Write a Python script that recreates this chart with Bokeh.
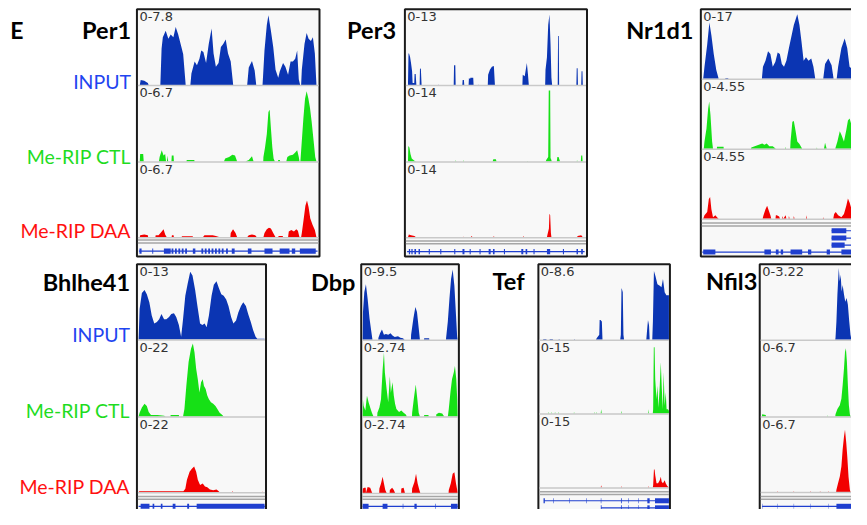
from bokeh.plotting import figure
from bokeh.models import Range1d
from bokeh.embed import file_html
from bokeh.resources import INLINE
from bokeh.core.properties import value

# ---------------- data ----------------
# positions: % of the locus window; values: % of the track's data range
track_names = ["INPUT", "Me-RIP CTL", "Me-RIP DAA"]
gene_names = ["Per1", "Per3", "Nr1d1", "Bhlhe41", "Dbp", "Tef", "Nfil3"]
scale_labels = {
    "Per1": ["0-7.8", "0-6.7", "0-6.7"],
    "Per3": ["0-13", "0-14", "0-14"],
    "Nr1d1": ["0-17", "0-4.55", "0-4.55"],
    "Bhlhe41": ["0-13", "0-22", "0-22"],
    "Dbp": ["0-9.5", "0-2.74", "0-2.74"],
    "Tef": ["0-8.6", "0-15", "0-15"],
    "Nfil3": ["0-3.22", "0-6.7", "0-6.7"],
}

per1_in_x = [0.5, 1, 3, 5, 5.5, 12, 12.7, 13.4, 15, 16.5, 17.8, 19.3, 20.6, 22, 23.9, 24.8, 26.2, 28.8, 29.4, 31.2, 32.5, 33.9, 34.9, 36.1, 37.6, 39.1, 40.7, 41.8, 43.1, 44.6, 45.9, 47.2, 48.6, 49.9, 51.4, 52.8, 60.6, 61.5, 63.3, 64.8, 65.7, 69.2, 69.5, 70.3, 71.6, 72.5, 73.9, 75.2, 76.5, 78, 78.9, 80.7, 82, 83.5, 84.9, 86.2, 87.5, 88.6, 89.5, 90.3, 90.8, 91.2, 92.7, 93.9, 95, 96.3, 97.4, 98.5, 99.4]
per1_in_y = [0, 7, 6, 3, 0, 0, 50, 65, 74, 63, 69, 65, 79, 69, 51, 42, 0, 0, 16, 32, 27, 36, 47, 45, 30, 56, 77, 43, 25, 30, 52, 56, 62, 43, 32, 0, 0, 24, 33, 20, 0, 0, 12, 47, 82, 95, 74, 52, 21, 10, 19, 30, 25, 14, 32, 32, 36, 47, 8, 0, 0, 21, 56, 71, 63, 60, 65, 43, 0]
per1_ctl_x = [0.5, 0.7, 2.4, 2.7, 11.2, 11.6, 12.8, 13.8, 14.7, 15.2, 15.7, 16.0, 16.4, 18.2, 18.4, 19.4, 19.6, 26.6, 26.8, 31.0, 31.2, 47.6, 48.3, 50.5, 52.3, 53.8, 55.0, 59.6, 61.5, 63.3, 64.2, 69.6, 69.7, 70.6, 71.6, 72.5, 73.2, 73.9, 74.7, 75.4, 76.1, 77.8, 78.0, 78.9, 79.1, 82.5, 83.1, 84.4, 86.2, 87.5, 88.6, 89.5, 89.9, 90.4, 91.2, 92.1, 93.0, 93.9, 94.9, 95.8, 96.7, 97.8, 98.7, 99.4]
per1_ctl_y = [0, 10, 10, 0, 0, 6, 15, 8, 10, 0, 0, 8, 0, 0, 8, 8, 0, 0, 2, 2, 0, 0, 4, 6, 9, 8, 0, 0, 2, 7, 0, 0, 6, 19, 37, 67, 70, 45, 19, 4, 0, 0, 2, 2, 0, 0, 6, 8, 9, 12, 15, 6, 0, 0, 28, 59, 85, 95, 85, 72, 54, 28, 6, 0]
per1_daa_x = [0.5, 0.7, 3.0, 5.0, 5.2, 9.2, 9.4, 11.0, 12.8, 13.8, 14.7, 15.6, 18.3, 18.5, 19.4, 19.6, 23.9, 24.1, 30.1, 30.3, 35.8, 36.7, 38.5, 41.3, 43.1, 45.3, 51.2, 51.4, 52.7, 54.1, 55.0, 60.6, 61.5, 63.3, 65.1, 66.0, 69.7, 70.3, 71.6, 72.8, 73.9, 75.2, 76.5, 78.0, 78.2, 80.5, 80.7, 83.5, 83.9, 85.3, 86.8, 88.1, 89.0, 89.9, 90.8, 91.2, 92.3, 93.2, 94.1, 95.0, 95.9, 97.2, 98.5, 99.4]
per1_daa_y = [0, 3, 4, 3, 0, 0, 3, 3, 8, 11, 4, 0, 0, 3, 3, 0, 0, 1.5, 1.5, 0, 0, 3, 3, 3, 2, 0, 0, 6, 11, 6, 0, 0, 3, 4, 3, 0, 0, 6, 11, 13, 12, 6, 0, 0, 2, 2, 0, 0, 8, 10, 8, 11, 9, 0, 0, 6, 26, 43, 50, 41, 26, 17, 10, 0]

per3_in_x = [1.0, 1.3, 1.6, 2.2, 2.7, 3.3, 3.6, 4.5, 4.7, 5.3, 5.7, 7.5, 7.7, 8.2, 8.6, 18.0, 18.2, 18.4, 26.5, 26.7, 27.4, 27.6, 31.3, 31.5, 32.2, 32.4, 34.8, 35.0, 35.6, 35.8, 37.4, 37.6, 39.9, 40.1, 40.3, 45.5, 45.7, 46.7, 47.8, 48.9, 49.5, 64.8, 65.0, 66.1, 67.3, 67.9, 68.4, 77.5, 77.7, 78.5, 79.2, 79.9, 80.5, 81.0, 81.4, 84.5, 84.7, 85.1, 85.3, 94.9, 95.1, 95.6, 95.8, 97.6, 97.8, 98.3, 98.5]
per3_in_y = [0, 43, 43, 38, 30, 19, 3, 3, 15, 15, 0, 0, 23, 22, 0, 0, 1, 0, 0, 27, 27, 0, 0, 7, 7, 0, 0, 10, 8, 10, 10, 0, 0, 1, 0, 0, 14, 21, 25, 26, 0, 0, 14, 12, 30, 15, 0, 0, 21, 38, 82, 96, 56, 10, 0, 0, 67, 67, 0, 0, 23, 23, 0, 0, 19, 19, 0]
per3_ctl_x = [1.0, 1.2, 1.8, 2.4, 3.1, 4.6, 5.5, 27.5, 27.7, 27.9, 31.9, 32.1, 32.3, 48.2, 48.6, 50.0, 50.4, 67.3, 67.5, 67.7, 77.8, 78.1, 79.2, 79.5, 79.7, 80.3, 80.5, 80.7, 81.2, 84.0, 84.3, 85.0, 85.8, 95.1, 95.3, 95.5, 97.4, 97.6, 98.2, 98.4]
per3_ctl_y = [0, 21, 19, 10, 4, 1, 0, 0, 2, 0, 0, 2, 0, 0, 3, 3, 0, 0, 1, 0, 0, 2, 6, 96, 96, 96, 4, 4, 0, 0, 6, 6, 0, 0, 2, 0, 0, 8, 8, 0]
per3_daa_x = [1.0, 1.5, 2.7, 4.6, 5.5, 31.7, 31.9, 32.1, 36.0, 36.5, 37.0, 48.6, 48.9, 49.2, 65.0, 65.3, 65.6, 78.5, 78.8, 79.6, 79.9, 80.3, 80.7, 81.0, 95.3, 95.6, 97.6, 98.5]
per3_daa_y = [0, 4, 3, 2, 0, 0, 1, 0, 0, 2, 0, 0, 2, 0, 0, 2, 0, 0, 4, 12, 32, 30, 6, 0, 0, 2, 3, 0]

nr1d1_in_x = [0.5, 1.2, 2.7, 3.9, 5.0, 6.3, 7.7, 9.0, 12.6, 12.8, 14.2, 14.4, 32.8, 33.4, 34.8, 36.2, 37.5, 38.8, 40.2, 41.5, 42.7, 43.8, 45.0, 46.3, 47.7, 49.2, 50.4, 52.3, 53.5, 54.6, 55.8, 57.1, 58.5, 60.0, 61.2, 62.2, 66.6, 67.6, 69.4, 71.2, 72.3, 74.0, 74.8, 76.6, 78.4, 79.8, 81.1, 84, 88, 92, 96, 99.5]
nr1d1_in_y = [0, 18, 51, 84, 65, 37, 13, 0, 0, 1, 1, 0, 0, 18, 27, 41, 37, 18, 25, 39, 37, 22, 18, 27, 46, 65, 80, 96, 80, 56, 27, 32, 27, 30, 18, 0, 0, 22, 30, 20, 0, 0, 18, 46, 60, 46, 18, 10, 20, 15, 5, 0]
nr1d1_ctl_x = [0.8, 1.2, 2.3, 3.2, 3.8, 4.5, 5.4, 5.9, 8.0, 8.1, 11.7, 11.8, 26.8, 27.0, 33.0, 34.2, 35.5, 36.9, 38.8, 40.5, 45.7, 45.9, 46.1, 48.4, 48.6, 49.6, 50.4, 51.4, 52.3, 53.5, 55.0, 62.9, 63.1, 63.3, 67.0, 67.6, 68.5, 73.2, 73.4, 74.4, 75.7, 76.6, 78.0, 79.3, 80.2, 81.1, 82.2, 86, 90, 95, 99.5]
nr1d1_ctl_y = [0, 11, 30, 59, 70, 50, 11, 0, 0, 3, 3, 0, 0, 2, 8, 6, 8, 4, 4, 0, 0, 3, 0, 0, 11, 40, 41, 26, 11, 7, 0, 0, 2, 0, 0, 9, 0, 0, 2, 11, 26, 21, 11, 28, 42, 45, 35, 20, 10, 5, 0]
nr1d1_daa_x = [0.5, 1.2, 2.7, 3.6, 4.3, 5.0, 5.9, 7.2, 8.1, 9.0, 33.2, 33.7, 34.8, 35.7, 36.6, 37.5, 38.0, 40.3, 40.5, 41.0, 42.3, 42.8, 44.0, 44.2, 44.6, 45.9, 46.3, 47.5, 47.7, 48.1, 50.2, 50.4, 50.8, 57.1, 57.3, 57.6, 66.4, 66.6, 66.9, 72.1, 72.6, 73.5, 74.8, 76.6, 78.0, 79.3, 80.2, 81.1, 82.2, 86, 90, 95, 99.5]
nr1d1_daa_y = [0, 5, 10, 29, 32, 14, 2, 5, 2, 0, 0, 5, 14, 19, 12, 5, 0, 0, 5, 5, 3, 0, 0, 4, 0, 5, 0, 0, 4, 0, 0, 4, 0, 0, 5, 0, 0, 2, 0, 0, 7, 10, 5, 2, 7, 19, 30, 24, 14, 8, 4, 2, 0]

bhl_in_x = [0, 0.8, 2.6, 4.7, 6.5, 8.5, 10.4, 12.4, 14.5, 16.3, 18.1, 20.2, 22.0, 24.1, 25.9, 28.0, 29.8, 31.9, 33.7, 35.2, 37.0, 38.9, 40.9, 42.7, 44.8, 46.6, 48.7, 50.5, 52.3, 53.9, 55.7, 57.8, 59.6, 61.7, 63.5, 65.5, 67.4, 69.4, 71.2, 73.3, 75.1, 77.2, 79.0, 81.1, 82.9, 85.0, 86.8, 88.9, 90.7, 92.7, 94.0, 99.8, 100]
bhl_in_y = [0, 42, 64, 68, 62, 51, 33, 22, 24, 28, 35, 28, 28, 31, 35, 36, 31, 20, 4, 28, 60, 77, 93, 88, 68, 46, 22, 20, 22, 17, 33, 60, 75, 80, 71, 62, 60, 55, 46, 31, 22, 26, 37, 46, 51, 46, 35, 24, 13, 4, 1, 1, 0]
bhl_ctl_x = [0, 0.8, 2.6, 4.7, 6.5, 8.0, 9.8, 15.0, 20.2, 21.5, 25.2, 25.4, 31.9, 32.1, 35.2, 36.3, 37.8, 39.6, 41.5, 43.0, 44.3, 45.6, 46.9, 48.2, 49.5, 50.8, 51.8, 53.1, 54.4, 55.7, 57.3, 59.1, 60.9, 62.4, 64.2, 66.3, 67.4]
bhl_ctl_y = [0, 5, 12, 17, 14, 6, 2, 2, 1, 0, 0, 2, 2, 0, 0, 10, 41, 73, 91, 98, 86, 64, 50, 32, 46, 50, 41, 37, 28, 23, 19, 17, 14, 10, 5, 2, 0]
bhl_daa_x = [0, 0.5, 35.5, 37.0, 38.3, 40.4, 42.2, 44.0, 45.6, 46.9, 48.7, 50.8, 52.6, 54.4, 56.5, 59.1, 61.7, 63.0, 64.2, 74.3, 74.6, 74.9, 97.6, 97.9, 98.2]
bhl_daa_y = [0, 1.5, 1.5, 5, 17, 28, 32, 35, 28, 17, 10, 12, 8, 7, 4, 3, 4, 2, 0, 0, 2, 0, 0, 1, 0]

dbp_in_x = [0, 0.3, 1.7, 3.4, 5.2, 7.2, 9.0, 10.3, 16.4, 16.6, 18.3, 20.3, 22.4, 24.5, 26.9, 29.3, 31.4, 33.8, 37.2, 39.7, 42.4, 44.1, 50.8, 51.0, 53.4, 55.5, 57.2, 59.0, 60.3, 64.6, 64.8, 70.0, 70.2, 87.7, 87.9, 89.7, 91.4, 93.1, 94.8, 96.6, 98.3, 99.5, 100]
dbp_in_y = [0, 38, 65, 76, 56, 29, 12, 0, 0, 3, 9, 14, 7, 8, 7, 9, 6, 4, 5, 3, 2, 0, 0, 7, 29, 45, 38, 16, 0, 0, 2, 2, 0, 0, 3, 25, 56, 83, 96, 74, 34, 5, 0]
dbp_ctl_x = [0, 0.2, 1.0, 2.8, 4.5, 6.2, 7.9, 9.7, 11.4, 15.3, 15.5, 17.6, 19.3, 21.0, 22.4, 23.4, 25.2, 26.9, 28.6, 29.7, 31.4, 32.8, 34.1, 35.5, 38.3, 40.7, 43.1, 45.2, 46.6, 51.9, 52.1, 53.8, 55.9, 57.6, 59.0, 60.3, 64.6, 64.8, 69.3, 69.5, 77.4, 77.6, 80.3, 83.8, 85.9, 89.7, 90.7, 92.4, 94.1, 95.9, 97.2, 98.6, 99.6, 100]
dbp_ctl_y = [0, 23, 14, 8, 28, 19, 12, 5, 0, 0, 5, 12, 23, 63, 86, 59, 37, 19, 54, 32, 46, 28, 17, 10, 6, 8, 5, 3, 0, 0, 5, 23, 43, 23, 5, 0, 0, 2, 2, 0, 0, 3, 5, 4, 0, 0, 10, 32, 50, 59, 68, 50, 23, 0]
dbp_daa_x = [0, 0.2, 1.7, 3.2, 3.4, 5.2, 7.9, 10.0, 17.4, 17.6, 19.3, 21.0, 22.4, 23.8, 25.2, 28.4, 28.6, 31.0, 32.8, 34.1, 40.5, 40.7, 43.1, 44.5, 51.9, 52.1, 54.5, 56.2, 57.9, 59.7, 60.7, 90.5, 90.7, 92.8, 94.8, 96.6, 98.3, 99.6, 100]
dbp_daa_y = [0, 6, 7, 7, 0, 8, 7, 0, 0, 6, 13, 22, 13, 4, 0, 0, 4, 7, 4, 0, 0, 6, 7, 0, 0, 6, 15, 26, 13, 4, 0, 0, 4, 13, 26, 28, 13, 4, 0]

tef_in_x = [2.5, 3.0, 5.0, 5.5, 7.5, 8.0, 10.0, 10.5, 14.5, 15.0, 15.7, 26.7, 27.1, 27.5, 43.5, 44.1, 46.1, 46.4, 47.1, 48.1, 48.6, 62.3, 62.8, 63.3, 63.5, 64.3, 64.8, 65.3, 82.5, 83.0, 83.8, 84.6, 85.1, 87.1, 87.6, 88.4, 89.6, 91.1, 92.9, 94.2, 95.4, 96.7, 98.0, 99.2, 100]
tef_in_y = [0, 1, 1, 0, 0, 1, 1, 0, 0, 1, 0, 0, 1, 0, 0, 2, 7, 27, 27, 25, 0, 0, 7, 70, 70, 65, 7, 0, 0, 11, 27, 20, 0, 0, 25, 94, 87, 76, 74, 72, 83, 65, 61, 61, 61]
tef_ctl_x = [6.5, 6.8, 7.1, 9.1, 9.4, 9.7, 11.6, 11.9, 12.2, 14.1, 14.4, 14.7, 26.3, 26.6, 26.9, 42.0, 42.3, 42.6, 43.8, 44.1, 44.4, 47.2, 47.6, 48.0, 63.0, 63.3, 63.6, 83.8, 84.1, 84.4, 87.5, 87.8, 88.3, 88.9, 89.4, 90.4, 91.1, 91.9, 92.9, 93.7, 94.4, 95.2, 95.9, 96.7, 97.5, 98.2, 99.2, 100]
tef_ctl_y = [0, 2, 0, 0, 2, 0, 0, 2, 0, 0, 2, 0, 0, 2, 0, 0, 2, 0, 0, 2, 0, 0, 6, 0, 0, 4, 0, 0, 6, 0, 0, 6, 93, 93, 48, 20, 39, 8, 39, 72, 39, 6, 58, 11, 30, 6, 6, 4]
tef_daa_x = [47.2, 47.6, 48.0, 63.0, 63.3, 63.6, 83.8, 84.1, 84.4, 87.5, 87.8, 88.4, 88.9, 89.4, 90.4, 91.6, 92.9, 93.7, 94.4, 95.4, 96.7, 97.5, 98.7, 100]
tef_daa_y = [0, 3, 0, 0, 2, 0, 0, 2, 0, 0, 3, 25, 25, 17, 6, 6, 10, 15, 8, 6, 10, 6, 2, 0]

nfil3_in_x = [82.0, 82.3, 83.3, 84.4, 85.9, 87.0, 88.0, 89.1, 90.2, 91.7, 93.1, 94.6, 96.0, 97.5, 98.9, 100]
nfil3_in_y = [0, 3, 25, 62, 98, 80, 89, 66, 75, 62, 52, 57, 48, 25, 7, 0]
nfil3_ctl_x = [0.8, 1.1, 5.0, 5.4, 73.3, 73.6, 73.9, 82.0, 82.3, 84.4, 87.0, 88.8, 90.2, 91.7, 92.8, 93.8, 94.9, 96.0, 97.1, 98.2, 98.9]
nfil3_ctl_y = [0, 3, 2, 0, 0, 2, 0, 0, 3, 10, 15, 24, 42, 65, 87, 92, 74, 42, 15, 3, 0]
nfil3_daa_x = [17.8, 18.1, 18.4, 35.9, 36.2, 36.5, 54.0, 54.3, 54.6, 64.9, 65.2, 65.5, 74.0, 74.3, 74.6, 83.0, 83.3, 85.1, 87.0, 88.8, 90.2, 91.7, 92.8, 94.2, 95.3, 96.7, 98.2, 98.9]
nfil3_daa_y = [0, 1.5, 0, 0, 1.5, 0, 0, 1.5, 0, 0, 1.5, 0, 0, 1.5, 0, 0, 3, 12, 21, 35, 58, 76, 85, 67, 49, 21, 3, 0]

# gene models: exon starts / ends (% of locus window)
per1_exon_s = [0.3, 7.5, 14.0, 18.3, 20.2, 22.1, 24.0, 25.9, 30.2, 35.0, 36.9, 38.8, 40.7, 42.6, 44.5, 46.4, 48.8, 52.0, 61.0, 70.3, 78.8, 85.6, 90.1]
per1_exon_e = [1.5, 8.0, 17.8, 19.3, 21.2, 23.1, 25.0, 26.9, 31.6, 36.0, 37.9, 39.8, 41.7, 43.6, 45.5, 47.4, 49.8, 53.6, 63.0, 74.8, 84.3, 87.5, 99.0]
per3_exon_s = [1.5, 2.9, 4.6, 6.9, 12.6, 19.0, 26.8, 31.4, 35.4, 40.9, 46.0, 48.4, 54.5, 64.2, 66.6, 71.0, 78.5, 87.4, 95.0, 97.6]
per3_exon_e = [2.2, 3.6, 5.5, 7.7, 13.2, 19.6, 27.4, 32.5, 36.0, 41.5, 47.1, 49.3, 55.1, 65.3, 67.5, 71.6, 80.3, 88.0, 95.8, 98.5]
nr1d1_t1_exon_s = [71.2]
nr1d1_t1_exon_e = [79.3]
nr1d1_t3_exon_e = [78.4]
nr1d1_t4_exon_s = [0.5, 34.2, 40.5, 43.2, 48.6, 58.2, 68.5, 76.6]
nr1d1_t4_exon_e = [7.2, 37.8, 42.0, 44.5, 55.0, 60.0, 70.3, 82.0]
bhl_exon_s = [1.6, 11.1, 17.6, 27.0, 38.5, 46.0]
bhl_exon_e = [8.6, 12.4, 18.9, 29.2, 40.0, 99.8]
dbp_exon_s = [0.0, 21.0, 42.2, 54.5, 76.6, 93.0]
dbp_exon_e = [6.2, 26.1, 42.8, 56.9, 77.2, 100]
tef_t1_exon_s = [3.0, 10.6, 22.8, 35.9, 47.3, 62.9, 68.7, 76.3, 83.3, 89.2]
tef_t1_exon_e = [4.0, 11.0, 23.2, 36.3, 47.7, 63.5, 69.1, 76.7, 85.1, 100]
tef_t2_exon_s = [47.3, 62.9, 68.7, 76.3, 83.3, 89.2]
tef_t2_exon_e = [47.9, 63.5, 69.1, 76.7, 85.1, 100]
nfil3_exon_s = [1.0, 18.0, 36.0, 54.2, 74.0, 83.3]
nfil3_exon_e = [1.4, 18.4, 36.4, 54.6, 74.4, 100]

# ---------------- layout (reference-image pixels) ----------------
W, H = 851, 509
X0, X1 = 0, 867
Y0, Y1 = 0, 525

COL_FILL = ["#0b35b3", "#16e016", "#f20000"]
COL_TEXT = ["#1f45f0", "#1fdc1f", "#ff1010"]
GENE_COL = "#1f3fcf"

panels = [
    dict(name="Per1", box=(139, 325, 9, 264), data=(141, 323),
         tracks=[(9, 87.3), (87.3, 166), (166, 244.3)], sep=(247, 250),
         series=[(per1_in_x, per1_in_y), (per1_ctl_x, per1_ctl_y), (per1_daa_x, per1_daa_y)],
         genes=[(258.5, 0, 100, per1_exon_s, per1_exon_e)], label=(133, 30.5)),
    dict(name="Per3", box=(412, 597.5, 9, 264), data=(413.3, 596),
         tracks=[(9, 87.3), (87.3, 166), (166, 244.3)], sep=(248, 251),
         series=[(per3_in_x, per3_in_y), (per3_ctl_x, per3_ctl_y), (per3_daa_x, per3_daa_y)],
         genes=[(259, 0.5, 99.5, per3_exon_s, per3_exon_e)], label=(403, 30.5)),
    dict(name="Nr1d1", box=(713.5, 905, 9, 264), data=(715, 900),
         tracks=[(9, 80.7), (80.7, 153), (153, 225)], sep=(229.5, 232.5),
         series=[(nr1d1_in_x, nr1d1_in_y), (nr1d1_ctl_x, nr1d1_ctl_y), (nr1d1_daa_x, nr1d1_daa_y)],
         genes=[(237.5, 71.2, 100, nr1d1_t1_exon_s, nr1d1_t1_exon_e),
                (245, 71.2, 100, nr1d1_t1_exon_s, nr1d1_t1_exon_e),
                (252.3, 71.2, 100, nr1d1_t1_exon_s, nr1d1_t3_exon_e),
                (259.5, 0, 100, nr1d1_t4_exon_s, nr1d1_t4_exon_e)], label=(706, 30.5)),
    dict(name="Bhlhe41", box=(139, 270.5, 272, 530), data=(140.7, 269.3),
         tracks=[(272, 349.7), (349.7, 429), (429, 507.3)], sep=(511.7, 514.5),
         series=[(bhl_in_x, bhl_in_y), (bhl_ctl_x, bhl_ctl_y), (bhl_daa_x, bhl_daa_y)],
         genes=[(521.7, 0, 100, bhl_exon_s, bhl_exon_e)], label=(132, 290)),
    dict(name="Dbp", box=(367.5, 467, 272, 530), data=(369, 465.7),
         tracks=[(272, 350), (350, 429), (429, 508)], sep=(511.7, 514.5),
         series=[(dbp_in_x, dbp_in_y), (dbp_ctl_x, dbp_ctl_y), (dbp_daa_x, dbp_daa_y)],
         genes=[(521.7, 0, 100, dbp_exon_s, dbp_exon_e)], label=(361.5, 290)),
    dict(name="Tef", box=(548, 682, 272, 530), data=(549.3, 681),
         tracks=[(272, 350), (350, 426), (426, 502.3)], sep=(506.7, 509.5),
         series=[(tef_in_x, tef_in_y), (tef_ctl_x, tef_ctl_y), (tef_daa_x, tef_daa_y)],
         genes=[(516, 3.3, 100, tef_t1_exon_s, tef_t1_exon_e),
                (523.3, 47.5, 100, tef_t2_exon_s, tef_t2_exon_e)], label=(534, 289.5)),
    dict(name="Nfil3", box=(773.5, 870, 272, 530), data=(775, 867),
         tracks=[(272, 350), (350, 429), (429, 507)], sep=(511.7, 514.5),
         series=[(nfil3_in_x, nfil3_in_y), (nfil3_ctl_x, nfil3_ctl_y), (nfil3_daa_x, nfil3_daa_y)],
         genes=[(521.7, 1, 100, nfil3_exon_s, nfil3_exon_e)], label=(771, 289.5)),
]

p = figure(width=W, height=H, x_range=Range1d(X0, X1), y_range=Range1d(Y1, Y0),
           output_backend="svg", toolbar_location=None,
           x_axis_location=None, y_axis_location=None, min_border=0)
p.grid.visible = False
p.outline_line_color = None
p.background_fill_color = "white"
p.border_fill_color = "white"


def x_range_for(L, R):
    k = 100.0 / (R - L)
    return Range1d(start=(X0 - L) * k, end=(X1 - L) * k)


def y_range_for(base, top):
    k = 100.0 / (base - top)
    return Range1d(start=(base - Y1) * k, end=(base - Y0) * k)


for pn in panels:
    name = pn["name"]
    bl, br, bt, bb = pn["box"]
    L, R = pn["data"]
    xn = "x_" + name
    p.extra_x_ranges[xn] = x_range_for(L, R)

    # panel frame
    p.quad(left=[bl], right=[br], top=[bt], bottom=[bb], fill_color="#f8f8f8",
           line_color="#1a1a1a", line_width=2)

    for i, ((ttop, base), (xs, ys)) in enumerate(zip(pn["tracks"], pn["series"])):
        yn = "y_%s_%d" % (name, i)
        p.extra_y_ranges[yn] = y_range_for(base, ttop + 2.5)
        p.varea(x=xs, y1=[0] * len(xs), y2=ys, fill_color=COL_FILL[i],
                x_range_name=xn, y_range_name=yn)
        p.segment(x0=[bl + 1], x1=[br - 1], y0=[base + 0.5], y1=[base + 0.5],
                  line_color="#c9c9c9", line_width=1.5)
        p.text(x=[bl + 2.5], y=[ttop + 3.2], text=[scale_labels[name][i]],
               text_font=value("DejaVu Sans"), text_font_size="13px",
               text_color="#333333", text_align="left", text_baseline="top")

    s1, s2 = pn["sep"]
    p.segment(x0=[bl + 1, bl + 1], x1=[br - 1, br - 1], y0=[s1, s2], y1=[s1, s2],
              line_color="#a6a6a6", line_width=1.5)

    for gy, ls, le, es, ee in pn["genes"]:
        p.segment(x0=[ls], x1=[le], y0=[gy], y1=[gy], line_color=GENE_COL,
                  line_width=1.2, x_range_name=xn)
        p.quad(left=es, right=ee, top=[gy - 2.6] * len(es), bottom=[gy + 2.6] * len(es),
               fill_color=GENE_COL, line_color=None, x_range_name=xn)

    lx, ly = pn["label"]
    p.text(x=[lx], y=[ly], text=[name], text_font=value("Lato"),
           text_font_style="bold", text_font_size="23.5px", text_color="#000000",
           text_align="right", text_baseline="alphabetic")

# panel letter
p.text(x=[10], y=[30.5], text=["E"], text_font=value("Lato"), text_font_style="bold",
       text_font_size="23px", text_color="#000000", text_align="left",
       text_baseline="alphabetic")

# track labels
label_rows = [(133, [84, 160.7, 237.3]), (132, [345, 422.7, 501])]
for lx, ys in label_rows:
    p.text(x=[lx] * 3, y=ys, text=track_names, text_font=value("Lato"),
           text_font_size="19.5px", text_color=COL_TEXT, text_align="right",
           text_baseline="alphabetic")

open("out.html", "w").write(file_html(p, INLINE))
